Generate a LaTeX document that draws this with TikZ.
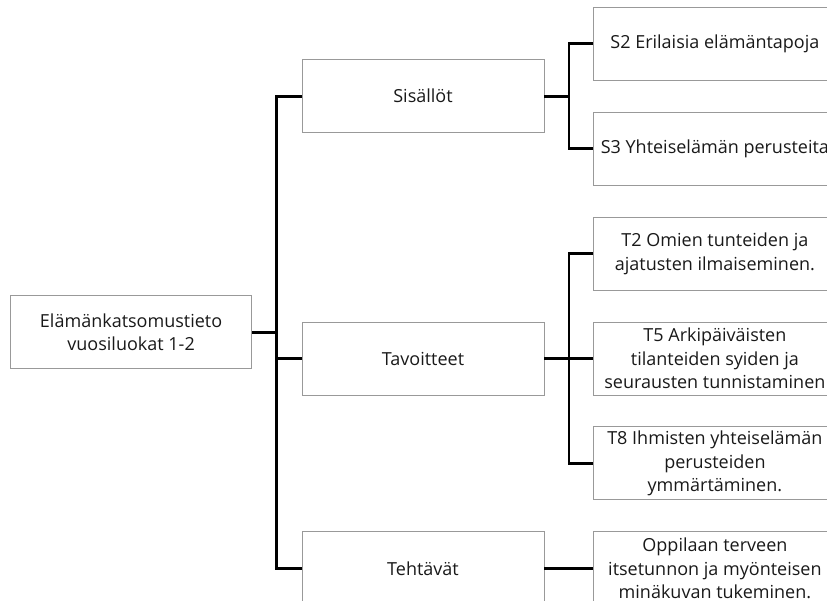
\documentclass[tikz,border=0pt]{standalone}
\usepackage{fontspec}
\setmainfont{Open Sans}
\usetikzlibrary{positioning,calc}

\begin{document}
\begin{tikzpicture}[x=1pt,y=1pt]
	\tikzstyle{box}=[rectangle, draw=black!40, line width=0.9pt, minimum width=242pt, minimum height=73pt, inner sep=0pt, align=center, text=black!90, font=\fontsize{18}{23.5}\selectfont]
	\tikzstyle{connect}=[line width=2.6pt, black]
	\path[use as bounding box, clip] (0,0) rectangle (827,-601);
	\node[box] (tav) at (423,-358.5) {Tavoitteet};
	\node[box, node distance=49pt] (t5) [right=of tav] {T5 Arkipäiväisten\\tilanteiden syiden ja\\seurausten tunnistaminen};
		\node[box, node distance=31pt] (t2) [above=of t5] {T2 Omien tunteiden ja\\ajatusten ilmaiseminen.};
		\node[box, node distance=31pt] (s3) [above=of t2] {S3 Yhteiselämän perusteita};
		\node[box, node distance=31pt] (s2) [above=of s3] {S2 Erilaisia elämäntapoja};
		\node[box, node distance=31pt] (t8) [below=of t5] {T8 Ihmisten yhteiselämän\\perusteiden\\ymmärtäminen.};
		\node[box, node distance=31pt] (opp) [below=of t8] {Oppilaan terveen\\itsetunnon ja myönteisen\\minäkuvan tukeminen.};
	\coordinate (smid) at ($(s2.west)!0.5!(s3.west)$);
	\node[box, node distance=49pt] (sis) [left=of smid] {Sisällöt};
	\node[box, node distance=49pt] (teh) [left=of opp] {Tehtävät};
	\coordinate (rmid) at ($(sis.west)!0.5!(teh.west)$);
	\node[box, node distance=49.5pt, minimum width=241pt] (root) [left=of rmid] {Elämänkatsomustieto\\vuosiluokat 1-2};
	\draw[connect] (root.east) -- ++(24.5,0) coordinate (j1) |- (sis.west);
	\draw[connect] (j1) |- (tav.west);
	\draw[connect] (j1) |- (teh.west);
	\draw[connect] (sis.east) -- ++(24.5,0) coordinate (j2) |- (s2.west);
	\draw[connect] (j2) |- (s3.west);
	\draw[connect] (tav.east) -- ++(24.5,0) coordinate (j3) |- (t2.west);
	\draw[connect] (j3) -- (t5.west);
	\draw[connect] (j3) |- (t8.west);
	\draw[connect] (teh.east) -- (opp.west);
\end{tikzpicture}
\end{document}
